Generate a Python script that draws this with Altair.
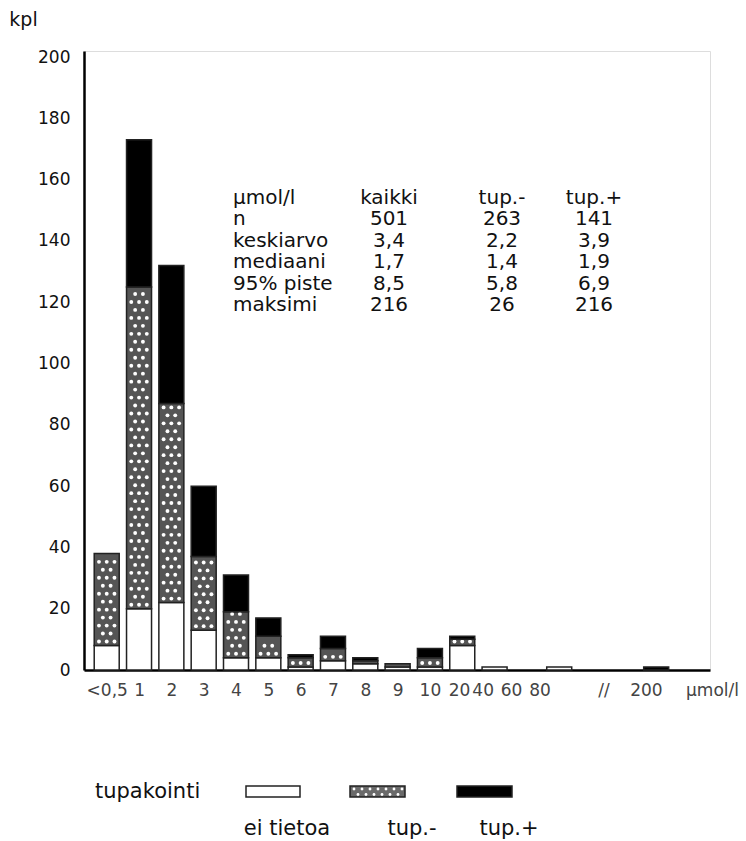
import json
import altair as alt
import pandas as pd

# ---- data ----
slot_labels = ["<0,5", "1", "2", "3", "4", "5", "6", "7", "8", "9", "10",
               "20", "40", "60", "80", "", "", "200"]
ei_tietoa = [8, 20, 22, 13, 4, 4, 1, 3, 2, 1, 1, 8, 1, 0, 1, 0, 0, 0]
tup_miinus = [30, 105, 65, 24, 15, 7, 3, 4, 1, 1, 3, 2, 0, 0, 0, 0, 0, 0]
tup_plus = [0, 48, 45, 23, 12, 6, 1, 4, 1, 0, 3, 1, 0, 0, 0, 0, 0, 1]

x_tick_labels = ["<0,5", "1", "2", "3", "4", "5", "6", "7", "8", "9", "10",
                 "20", "40", "60", "80", "//", "200"]
x_tick_pos = [0, 1, 2, 3, 4, 5, 6, 7, 8, 9, 10,
              10.9, 11.63, 12.51, 13.39, 15.37, 16.68]
y_ticks = [0, 20, 40, 60, 80, 100, 120, 140, 160, 180, 200]

stat_rows = ["μmol/l", "n", "keskiarvo", "mediaani", "95% piste", "maksimi"]
stat_kaikki = ["kaikki", "501", "3,4", "1,7", "8,5", "216"]
stat_tup_miinus = ["tup.-", "263", "2,2", "1,4", "5,8", "26"]
stat_tup_plus = ["tup.+", "141", "3,9", "1,9", "6,9", "216"]

legend_title = "tupakointi"
legend_labels = ["ei tietoa", "tup.-", "tup.+"]

df = pd.DataFrame({
    "slot": list(range(len(slot_labels))),
    "label": slot_labels,
    "ei": ei_tietoa,
    "minus": tup_miinus,
    "plus": tup_plus,
})
one = pd.DataFrame({"k": [0]})

W, H = 626, 619
FONT = "DejaVu Sans"
GRAY = "#555555"

x_scale = alt.Scale(domain=[-0.548, 18.51], nice=False, zero=False)
y_scale = alt.Scale(domain=[0, 202], nice=False)

label_expr = f"{json.dumps(x_tick_labels)}[indexof({json.dumps(x_tick_pos)}, datum.value)]"

x_axis = alt.Axis(values=x_tick_pos, labelExpr=label_expr, title="μmol/l",
                  titleX=628, titleY=20, titleAlign="center", titleBaseline="middle",
                  titleFont=FONT, titleFontSize=17, titleFontWeight="normal", titleColor="#444",
                  labelFont=FONT, labelFontSize=17, labelColor="#444",
                  labelBaseline="middle", labelPadding=20, labelOverlap=False,
                  labelFlush=False, labelBound=False,
                  ticks=False, tickSize=0, grid=False,
                  domainColor="black", domainWidth=2.5)
y_axis = alt.Axis(values=y_ticks, title="kpl", titleAngle=0, titleX=-61, titleY=-32,
                  titleAlign="center", titleBaseline="middle", titleFont=FONT,
                  titleFontSize=19, titleFontWeight="normal", titleColor="#111",
                  labelFont=FONT, labelFontSize=17, labelColor="#111", labelPadding=14,
                  ticks=False, tickSize=0, grid=False,
                  domainColor="black", domainWidth=2.5)

X = alt.X("slot:Q", scale=x_scale, axis=x_axis)


def seg(filter_expr, lo, hi, fill):
    return (alt.Chart(df)
            .transform_filter(filter_expr)
            .transform_calculate(lo=lo, hi=hi)
            .mark_bar(width=25, fill=fill, stroke="#222", strokeWidth=1.5)
            .encode(x=X,
                    y=alt.Y("hi:Q", scale=y_scale, axis=y_axis),
                    y2="lo:Q"))


white = seg("datum.ei > 0", "0", "datum.ei", "white")
gray = seg("datum.minus > 0", "datum.ei", "datum.ei + datum.minus", GRAY)
black = seg("datum.plus > 0", "datum.ei + datum.minus",
            "datum.ei + datum.minus + datum.plus", "black")

dots = (alt.Chart(df)
        .transform_filter("datum.minus >= 2")
        .transform_calculate(lo="datum.ei", hi="datum.ei + datum.minus")
        .transform_calculate(rows="sequence(datum.lo + 1.3, datum.hi - 0.5, 2.6)")
        .transform_flatten(["rows"])
        .transform_calculate(ridx="round((datum.rows - datum.lo - 1.3) / 2.6)")
        .transform_calculate(cols="datum.ridx % 2 == 0 ? [-0.24, 0, 0.24] : [-0.12, 0.12]")
        .transform_flatten(["cols"])
        .transform_calculate(xd="datum.slot + datum.cols")
        .mark_circle(size=15, color="white", opacity=1)
        .encode(x=alt.X("xd:Q", scale=x_scale, axis=x_axis),
                y=alt.Y("rows:Q", scale=y_scale, axis=y_axis)))


def col_text(lines, x, align):
    return (alt.Chart(one)
            .mark_text(align=align, baseline="alphabetic", font=FONT, fontSize=20,
                       lineHeight=21.4, color="#111")
            .encode(x=alt.value(x - 84), y=alt.value(204 - 51), text=alt.value(lines)))


table = [col_text(stat_rows, 233, "left"),
         col_text(stat_kaikki, 389, "center"),
         col_text(stat_tup_miinus, 502, "center"),
         col_text(stat_tup_plus, 594, "center")]


def txt(s, x, y, align="left", size=21):
    return (alt.Chart(one)
            .mark_text(align=align, baseline="middle", font=FONT, fontSize=size, color="#111")
            .encode(x=alt.value(x - 84), y=alt.value(y - 51), text=alt.value(s)))


def swatch(x0, x1, fill):
    return (alt.Chart(one)
            .mark_rect(fill=fill, stroke="#222", strokeWidth=1.5)
            .encode(x=alt.value(x0 - 84), x2=alt.value(x1 - 84),
                    y=alt.value(786 - 51), y2=alt.value(797 - 51)))


legend_dots = (alt.Chart(one)
               .transform_calculate(px="sequence(270, 320, 4)")
               .transform_flatten(["px"])
               .transform_calculate(py="((datum.px - 270) / 4) % 2 == 0 ? 738 : 743.5")
               .mark_circle(size=8, color="white", opacity=1)
               .encode(x=alt.X("px:Q", scale=None), y=alt.Y("py:Q", scale=None)))

legend = [txt(legend_title, 95, 792),
          swatch(246, 300, "white"), swatch(350, 405, "#6a6a6a"), swatch(457, 512, "black"),
          legend_dots,
          txt(legend_labels[0], 287, 829, "center"),
          txt(legend_labels[1], 412, 829, "center"),
          txt(legend_labels[2], 509, 829, "center")]

chart = (alt.layer(white, gray, dots, black, *table, *legend)
         .properties(width=W, height=H,
                     autosize=alt.AutoSizeParams(type="none"),
                     padding={"left": 84, "top": 51, "right": 36, "bottom": 171})
         .configure_view(stroke="black", strokeWidth=2)
         .configure(background="white"))

chart.save("out.html", embed_options={"renderer": "svg", "actions": False})
